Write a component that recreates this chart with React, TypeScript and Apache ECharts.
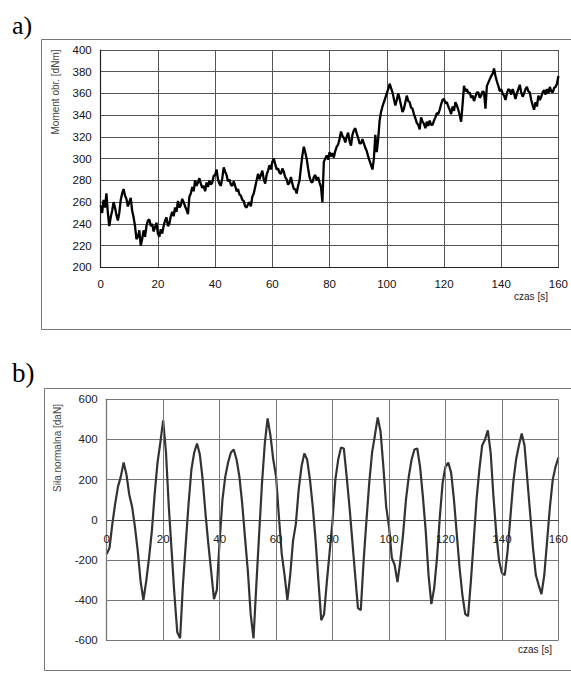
import React, { useEffect, useRef } from "react";
import * as echarts from "echarts";

// Chart a) – torque [dNm], sampled every 0.5 s from 0 to 160 s
const momentStep = 0.5;
const momentValues = [
  257, 250, 262, 255, 268, 250, 238, 246, 252, 260, 255, 248, 243, 250, 262, 268, 272, 266, 263, 256,
  260, 264, 252, 246, 238, 226, 228, 234, 220, 226, 234, 228, 238, 243, 244, 238, 240, 233, 237, 241,
  231, 228, 235, 231, 238, 243, 246, 238, 240, 247, 251, 247, 255, 251, 261, 255, 257, 263, 260, 256,
  253, 249, 265, 268, 274, 270, 280, 275, 278, 282, 277, 273, 275, 270, 278, 274, 280, 276, 278, 284,
  285, 290, 281, 277, 275, 282, 292, 288, 285, 279, 281, 276, 275, 279, 275, 270, 272, 267, 266, 262,
  261, 256, 255, 258, 260, 256, 265, 268, 274, 280, 286, 281, 285, 289, 281, 277, 285, 289, 294, 290,
  297, 300, 295, 290, 291, 287, 286, 291, 288, 283, 281, 276, 278, 283, 277, 272, 272, 268, 275, 280,
  292, 303, 311, 306, 300, 291, 283, 279, 278, 283, 285, 280, 283, 278, 274, 260, 297, 300, 303, 299,
  306, 302, 305, 301, 307, 311, 313, 318, 325, 321, 319, 315, 320, 324, 316, 312, 322, 326, 328, 323,
  319, 314, 314, 318, 314, 310, 307, 302, 298, 294, 290, 300, 322, 306, 318, 335, 343, 348, 352, 356,
  360, 364, 369, 365, 361, 355, 349, 354, 360, 355, 349, 343, 346, 352, 358, 353, 352, 347, 346, 341,
  337, 333, 331, 327, 338, 334, 332, 328, 334, 330, 335, 331, 331, 335, 338, 342, 341, 345, 350, 354,
  355, 351, 352, 348, 345, 341, 348, 344, 352, 349, 345, 340, 334, 350, 367, 362, 364, 360, 361, 356,
  358, 353, 357, 361, 361, 356, 358, 362, 361, 346, 367, 370, 373, 376, 378, 383, 376, 371, 367, 362,
  364, 360, 358, 354, 360, 364, 363, 359, 364, 360, 355, 360, 364, 368, 361, 357, 360, 364, 366, 362,
  361, 354, 349, 345, 352, 348, 358, 354, 357, 361, 363, 359, 364, 360, 366, 362, 361, 365, 366, 369,
  376,
];

// Chart b) – normal force [daN], sampled every 1 s from 0 to 160 s
const forceStep = 1;
const forceValues = [
  -170, -140, -20, 80, 165, 215, 285, 225, 125, 65,
  -35, -155, -305, -400, -305, -190, -55, 130, 285, 385,
  495, 335, 65, -155, -375, -560, -590, -325, -120, 80,
  250, 335, 380, 325, 200, 30, -120, -255, -395, -350,
  -105, 100, 215, 285, 335, 350, 300, 215, 80, -90,
  -255, -470, -590, -325, -70, 180, 380, 505, 420, 300,
  215, 15, -170, -275, -400, -275, -105, -20, 150, 265,
  330, 300, 200, 65, -105, -305, -500, -470, -305, -155,
  -5, 200, 300, 360, 355, 215, 65, -105, -275, -440,
  -450, -205, -5, 185, 335, 420, 510, 440, 265, 65,
  -35, -190, -225, -310, -205, -70, 100, 215, 300, 350,
  355, 265, 115, -55, -275, -420, -340, -190, 15, 185,
  265, 285, 235, 100, -70, -240, -375, -470, -480, -305,
  -105, 100, 250, 370, 400, 445, 335, 115, -70, -205,
  -265, -275, -155, 15, 185, 300, 370, 430, 370, 200,
  30, -140, -275, -325, -370, -275, -105, 65, 200, 265,
  310,
];

const timeMin = 0;
const timeMax = 160;
const timeInterval = 20;
const momentMin = 200;
const momentMax = 400;
const momentInterval = 20;
const forceMin = -600;
const forceMax = 600;
const forceInterval = 200;

const labelA = "a)";
const labelB = "b)";
const momentAxisName = "Moment obr. [dNm]";
const forceAxisName = "Siła normalna [daN]";
const timeAxisName = "czas [s]";

const SANS = '"Liberation Sans", Arial, sans-serif';
const SERIF = '"Liberation Serif", "Times New Roman", serif';

export default function App() {
  const ref = useRef<HTMLDivElement>(null);

  useEffect(() => {
    if (!ref.current) return;
    const chart = echarts.init(ref.current, undefined, { renderer: "svg" });

    const momentData = momentValues.map((v, i) => [i * momentStep, v]);
    const forceData = forceValues.map((v, i) => [i * forceStep, v]);

    const gridLine = (color: string) => ({ show: true, lineStyle: { color, width: 1, type: "solid" as const } });

    const gridB = { left: 106.7, top: 399.3, width: 457.6, height: 241 };
    // distance from the grid bottom up to the zero line (derived from the axis range)
    const zeroOffset = -(gridB.height * (0 - forceMin)) / (forceMax - forceMin);

    const option: any = {
      animation: false,
      backgroundColor: "#ffffff",
      grid: [
        { left: 100.7, top: 50, width: 459.3, height: 217.3, containLabel: false },
        { ...gridB, containLabel: false },
      ],
      xAxis: [
        {
          gridIndex: 0,
          type: "value",
          min: timeMin,
          max: timeMax,
          interval: timeInterval,
          axisLine: { show: true, onZero: false, lineStyle: { color: "#222", width: 1.2 } },
          axisTick: { show: false },
          axisLabel: { color: "#111", fontSize: 11.5, fontFamily: SANS, margin: 11 },
          splitLine: gridLine("#555"),
        },
        {
          gridIndex: 1,
          type: "value",
          min: timeMin,
          max: timeMax,
          interval: timeInterval,
          position: "bottom",
          offset: zeroOffset,
          z: 4,
          axisLine: { show: true, onZero: false, lineStyle: { color: "#444", width: 1.2 } },
          axisTick: { show: false },
          axisLabel: { color: "#222", fontSize: 11.5, fontFamily: SANS, margin: 13 },
          splitLine: gridLine("#777"),
        },
      ],
      yAxis: [
        {
          gridIndex: 0,
          type: "value",
          min: momentMin,
          max: momentMax,
          interval: momentInterval,
          axisLine: { show: true, lineStyle: { color: "#222", width: 1.2 } },
          axisTick: { show: false },
          axisLabel: { color: "#111", fontSize: 11.5, fontFamily: SANS, margin: 9 },
          splitLine: gridLine("#555"),
        },
        {
          gridIndex: 1,
          type: "value",
          min: forceMin,
          max: forceMax,
          interval: forceInterval,
          axisLine: { show: true, lineStyle: { color: "#444", width: 1.2 } },
          axisTick: { show: false },
          axisLabel: { color: "#222", fontSize: 11.5, fontFamily: SANS, margin: 9 },
          splitLine: gridLine("#777"),
        },
      ],
      series: [
        {
          type: "line",
          xAxisIndex: 0,
          yAxisIndex: 0,
          data: momentData,
          symbol: "none",
          lineStyle: { color: "#000", width: 2.3 },
          z: 3,
        },
        {
          type: "line",
          xAxisIndex: 1,
          yAxisIndex: 1,
          data: forceData,
          symbol: "none",
          lineStyle: { color: "#333", width: 2.2 },
          z: 3,
        },
      ],
      graphic: [
        {
          type: "rect",
          shape: { x: 41.5, y: 39.5, width: 560, height: 290 },
          style: { fill: "none", stroke: "#777", lineWidth: 1 },
          z: -1,
        },
        {
          type: "rect",
          shape: { x: 44.5, y: 388.5, width: 560, height: 282 },
          style: { fill: "none", stroke: "#777", lineWidth: 1 },
          z: -1,
        },
        {
          type: "text",
          x: 12,
          y: 25,
          style: { text: labelA, font: `26px ${SERIF}`, fill: "#000", textAlign: "left", textVerticalAlign: "middle" },
        },
        {
          type: "text",
          x: 12,
          y: 373,
          style: { text: labelB, font: `27px ${SERIF}`, fill: "#000", textAlign: "left", textVerticalAlign: "middle" },
        },
        {
          type: "text",
          x: 55,
          y: 92,
          rotation: Math.PI / 2,
          style: { text: momentAxisName, font: `10px ${SANS}`, fill: "#444", textAlign: "center", textVerticalAlign: "middle" },
        },
        {
          type: "text",
          x: 57,
          y: 448,
          rotation: Math.PI / 2,
          style: { text: forceAxisName, font: `10px ${SANS}`, fill: "#444", textAlign: "center", textVerticalAlign: "middle" },
        },
        {
          type: "text",
          x: 531,
          y: 296,
          style: { text: timeAxisName, font: `10px ${SANS}`, fill: "#222", textAlign: "center", textVerticalAlign: "middle" },
        },
        {
          type: "text",
          x: 535,
          y: 649,
          style: { text: timeAxisName, font: `10px ${SANS}`, fill: "#222", textAlign: "center", textVerticalAlign: "middle" },
        },
      ],
    };

    chart.setOption(option);
    return () => {
      chart.dispose();
    };
  }, []);

  return (
    <div
      ref={ref}
      style={{ position: "fixed", left: 0, top: 0, width: 571, height: 676, background: "#fff" }}
    />
  );
}
